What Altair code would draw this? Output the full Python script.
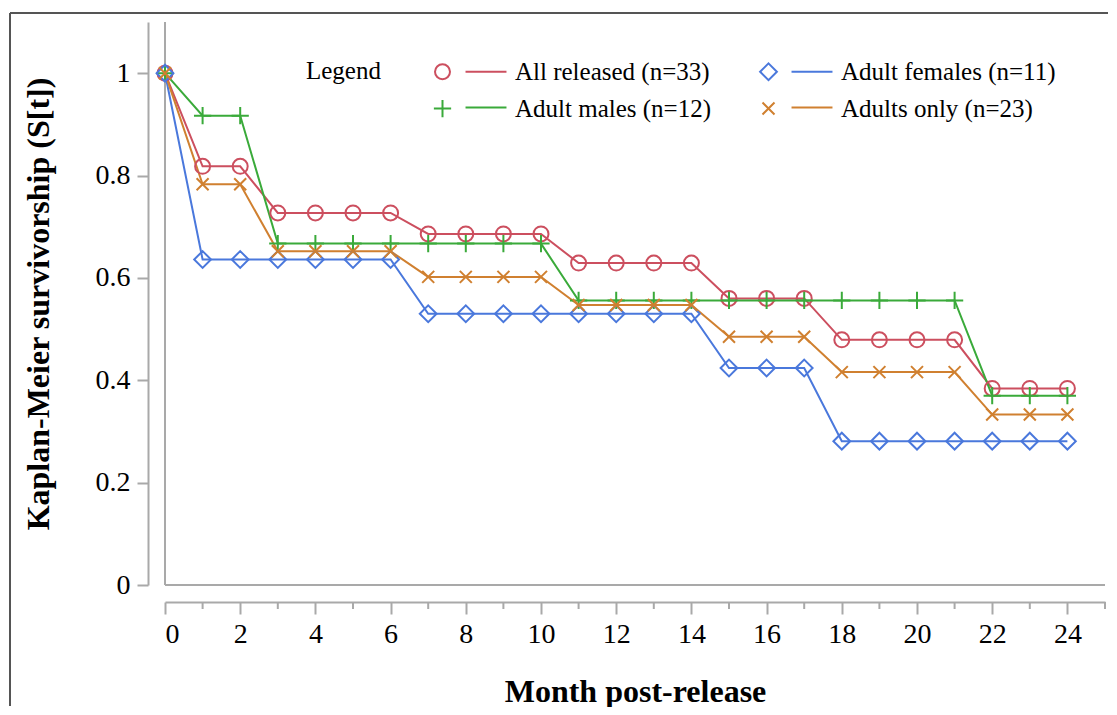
import altair as alt
import pandas as pd

months = list(range(25))
all_released = [1.0, 0.818, 0.818, 0.727, 0.727, 0.727, 0.727, 0.686, 0.686, 0.686, 0.686,
                0.629, 0.629, 0.629, 0.629, 0.560, 0.560, 0.560, 0.479, 0.479, 0.479, 0.479,
                0.384, 0.384, 0.384]
adult_males = [1.0, 0.917, 0.917, 0.667, 0.667, 0.667, 0.667, 0.667, 0.667, 0.667, 0.667,
               0.556, 0.556, 0.556, 0.556, 0.556, 0.556, 0.556, 0.556, 0.556, 0.556, 0.556,
               0.370, 0.370, 0.370]
adult_females = [1.0, 0.636, 0.636, 0.636, 0.636, 0.636, 0.636, 0.530, 0.530, 0.530, 0.530,
                 0.530, 0.530, 0.530, 0.530, 0.424, 0.424, 0.424, 0.281, 0.281, 0.281, 0.281,
                 0.281, 0.281, 0.281]
adults_only = [1.0, 0.783, 0.783, 0.652, 0.652, 0.652, 0.652, 0.602, 0.602, 0.602, 0.602,
               0.547, 0.547, 0.547, 0.547, 0.485, 0.485, 0.485, 0.416, 0.416, 0.416, 0.416,
               0.333, 0.333, 0.333]

# legend fills column by column: (All released, Adult males) | (Adult females, Adults only)
series_names = ["All released (n=33)", "Adult males (n=12)", "Adult females (n=11)", "Adults only (n=23)"]
series_values = [all_released, adult_males, adult_females, adults_only]
series_colors = ["#cc4f5f", "#3aaa3a", "#4a78dc", "#d08030"]

x_major = list(range(0, 25, 2))
x_minor = list(range(1, 26, 2))
y_ticks = [0, 0.2, 0.4, 0.6, 0.8, 1]

rows = []
for name, vals in zip(series_names, series_values):
    for m, v in zip(months, vals):
        rows.append({"month": m, "S": v, "series": name})
df = pd.DataFrame(rows)
minor_df = pd.DataFrame({"month": x_minor})

circle = "M-1,0A1,1,0,1,1,1,0A1,1,0,1,1,-1,0Z"
diamond = "M0,-1.12L1.12,0L0,1.12L-1.12,0Z"
plus = "M-1.15,0L1.15,0M0,-1.15L0,1.15"
xmark = "M-0.8,-0.8L0.8,0.8M-0.8,0.8L0.8,-0.8"
markers = [circle, plus, diamond, xmark]
seg = "M3.07,0L8.53,0"

FONT = "Liberation Serif"
GRAY = "#a9a9a9"
H = 563

xscale = alt.Scale(domain=[0, 25], nice=False, zero=False)
yscale = alt.Scale(domain=[0, 1.1], nice=False, zero=False)

x_axis = alt.Axis(values=x_major, orient="bottom", offset=17, tickSize=12, grid=False,
                  domain=True, domainColor=GRAY, domainWidth=2, tickColor=GRAY, tickWidth=2,
                  labelFont=FONT, labelFontSize=28, labelColor="black", labelPadding=6,
                  title="Month post-release", titleFont=FONT, titleFontSize=32,
                  titleFontWeight="bold", titleColor="black", titlePadding=28)
y_axis = alt.Axis(values=y_ticks, orient="left", offset=17, tickSize=11, grid=False, format="~g",
                  domain=True, domainColor=GRAY, domainWidth=2, tickColor=GRAY, tickWidth=2,
                  labelFont=FONT, labelFontSize=28, labelColor="black", labelPadding=7,
                  title="Kaplan-Meier survivorship (S[t])", titleFont=FONT, titleFontSize=32,
                  titleFontWeight="bold", titleColor="black", titlePadding=40)

legend_common = dict(orient="none", legendX=141, legendY=37, columns=2, columnPadding=44,
                     rowPadding=10, padding=0, title="Legend", titleOrient="left",
                     titleAnchor="start", titleBaseline="top",
                     titleFont=FONT, titleFontSize=25, titleFontWeight="normal",
                     titleColor="black", titlePadding=49, labelFont=FONT, labelFontSize=25,
                     labelColor="black", labelLimit=600, labelOffset=60, symbolSize=225,
                     symbolStrokeWidth=2, symbolFillColor="transparent")
legend_lines = alt.Legend(symbolType=seg, labelOpacity=0, titleOpacity=0, **legend_common)
legend_markers = alt.Legend(**legend_common)

X = alt.X("month:Q", scale=xscale, axis=x_axis)
Y = alt.Y("S:Q", scale=yscale, axis=y_axis)

base = alt.Chart(df)

lines = base.mark_line(strokeWidth=2).encode(
    x=X, y=Y,
    stroke=alt.Stroke("series:N", sort=series_names, scale=alt.Scale(range=series_colors),
                      legend=legend_lines),
)

points = base.mark_point(filled=False, strokeWidth=2, size=225, opacity=1).encode(
    x=X, y=Y,
    color=alt.Color("series:N", scale=alt.Scale(domain=series_names, range=series_colors),
                    legend=legend_markers),
    shape=alt.Shape("series:N", scale=alt.Scale(domain=series_names, range=markers),
                    legend=legend_markers),
)

minor_ticks = alt.Chart(minor_df).mark_rule(color=GRAY, strokeWidth=2).encode(
    x=X, y=alt.value(H + 17), y2=alt.value(H + 17 + 7),
)

one = pd.DataFrame({"k": [0]})
left_edge = alt.Chart(one).mark_rule(color=GRAY, strokeWidth=2).encode(
    x=alt.XDatum(0, type="quantitative", scale=xscale, axis=x_axis),
)
bottom_edge = alt.Chart(one).mark_rule(color=GRAY, strokeWidth=2).encode(
    y=alt.YDatum(0, type="quantitative", scale=yscale, axis=y_axis),
)

frame_top = alt.Chart(one).mark_rule(color="#555555", strokeWidth=2).encode(
    x=alt.value(-155), x2=alt.value(943), y=alt.value(-9))
frame_left = alt.Chart(one).mark_rule(color="#555555", strokeWidth=2).encode(
    x=alt.value(-155), y=alt.value(-9), y2=alt.value(684))

chart = alt.layer(lines, frame_top, frame_left, left_edge, bottom_edge, minor_ticks, points).properties(
    width=940, height=H,
    padding={"left": 1, "top": 4, "right": 0, "bottom": 0},
    background="white",
).configure_view(stroke=None)

chart.save("out.html", embed_options={"renderer": "svg", "actions": False})
